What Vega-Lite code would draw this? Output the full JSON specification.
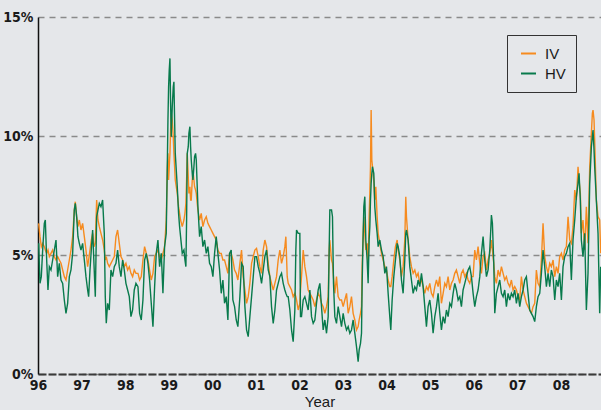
{
  "$schema": "https://vega.github.io/schema/vega-lite/v6.json",
  "width": 563,
  "height": 357,
  "autosize": {"type": "none"},
  "padding": {"left": 38, "top": 17, "right": 0, "bottom": 36},
  "background": "#e5e7ea",
  "config": {
    "view": {"stroke": null},
    "axis": {
      "labelFont": "Liberation Sans Narrow, DejaVu Sans Condensed, Arial Narrow, sans-serif",
      "labelFontWeight": "bold",
      "labelFontSize": 14,
      "labelColor": "#1a1a1a",
      "titleFont": "Liberation Sans, Arial, sans-serif",
      "titleFontWeight": "normal",
      "titleFontSize": 15,
      "titleColor": "#1a1a1a",
      "ticks": false,
      "labelFlush": false,
      "labelOverlap": false
    }
  },
  "data": {"values": [
    {"t":1996.015,"IV":6.33,"HV":5.49},{"t":1996.046,"IV":5.77,"HV":3.81},{"t":1996.076,"IV":5.35,"HV":4.09},{"t":1996.107,"IV":5.49,"HV":5.21},{"t":1996.145,"IV":5.35,"HV":6.33},{"t":1996.168,"IV":5.21,"HV":6.47},{"t":1996.199,"IV":5.07,"HV":4.79},{"t":1996.229,"IV":5.21,"HV":3.53},{"t":1996.26,"IV":4.93,"HV":4.51},{"t":1996.298,"IV":5.07,"HV":4.37},{"t":1996.336,"IV":5.21,"HV":4.79},{"t":1996.375,"IV":4.93,"HV":5.21},{"t":1996.413,"IV":4.79,"HV":5.63},{"t":1996.451,"IV":4.93,"HV":4.09},{"t":1996.489,"IV":4.79,"HV":4.65},{"t":1996.528,"IV":4.65,"HV":3.95},{"t":1996.566,"IV":4.37,"HV":3.81},{"t":1996.604,"IV":4.09,"HV":3.11},{"t":1996.642,"IV":3.95,"HV":2.55},{"t":1996.68,"IV":4.37,"HV":2.97},{"t":1996.719,"IV":4.79,"HV":4.09},{"t":1996.757,"IV":5.21,"HV":4.37},{"t":1996.795,"IV":5.77,"HV":5.07},{"t":1996.833,"IV":6.89,"HV":6.89},{"t":1996.856,"IV":7.24,"HV":7.17},{"t":1996.887,"IV":6.61,"HV":6.61},{"t":1996.917,"IV":6.19,"HV":5.77},{"t":1996.948,"IV":6.47,"HV":5.49},{"t":1996.986,"IV":6.05,"HV":5.21},
    {"t":1997.024,"IV":6.33,"HV":5.49},{"t":1997.063,"IV":5.77,"HV":4.79},{"t":1997.101,"IV":5.21,"HV":4.09},{"t":1997.139,"IV":4.51,"HV":3.53},{"t":1997.162,"IV":4.79,"HV":3.25},{"t":1997.193,"IV":5.21,"HV":4.37},{"t":1997.223,"IV":5.63,"HV":5.21},{"t":1997.254,"IV":5.91,"HV":6.05},{"t":1997.284,"IV":5.35,"HV":4.65},{"t":1997.315,"IV":5.49,"HV":3.25},{"t":1997.346,"IV":7.31,"HV":6.61},{"t":1997.376,"IV":6.47,"HV":6.89},{"t":1997.407,"IV":6.19,"HV":7.17},{"t":1997.445,"IV":5.91,"HV":7.03},{"t":1997.483,"IV":5.63,"HV":7.31},{"t":1997.521,"IV":5.21,"HV":5.91},{"t":1997.544,"IV":4.79,"HV":3.25},{"t":1997.567,"IV":4.93,"HV":2.13},{"t":1997.598,"IV":4.65,"HV":2.97},{"t":1997.636,"IV":4.51,"HV":2.69},{"t":1997.674,"IV":4.65,"HV":4.37},{"t":1997.713,"IV":4.79,"HV":4.09},{"t":1997.751,"IV":4.93,"HV":4.51},{"t":1997.789,"IV":5.77,"HV":4.65},{"t":1997.827,"IV":6.05,"HV":5.21},{"t":1997.865,"IV":5.49,"HV":4.51},{"t":1997.904,"IV":4.93,"HV":4.09},{"t":1997.942,"IV":4.79,"HV":4.79},{"t":1997.98,"IV":4.51,"HV":4.37},
    {"t":1998.018,"IV":4.65,"HV":3.81},{"t":1998.057,"IV":4.37,"HV":3.53},{"t":1998.095,"IV":4.51,"HV":3.25},{"t":1998.133,"IV":4.23,"HV":2.41},{"t":1998.171,"IV":4.09,"HV":2.69},{"t":1998.209,"IV":4.37,"HV":3.53},{"t":1998.248,"IV":4.23,"HV":3.81},{"t":1998.294,"IV":4.23,"HV":3.67},{"t":1998.332,"IV":3.95,"HV":2.55},{"t":1998.37,"IV":4.09,"HV":2.27},{"t":1998.408,"IV":4.79,"HV":3.11},{"t":1998.446,"IV":5.35,"HV":4.79},{"t":1998.485,"IV":5.07,"HV":5.07},{"t":1998.523,"IV":4.79,"HV":4.65},{"t":1998.561,"IV":4.37,"HV":3.95},{"t":1998.599,"IV":3.95,"HV":2.97},{"t":1998.638,"IV":4.23,"HV":1.99},{"t":1998.676,"IV":4.93,"HV":3.67},{"t":1998.714,"IV":5.07,"HV":5.07},{"t":1998.752,"IV":5.21,"HV":5.63},{"t":1998.791,"IV":4.93,"HV":4.51},{"t":1998.829,"IV":4.79,"HV":5.07},{"t":1998.867,"IV":5.07,"HV":3.39},{"t":1998.905,"IV":5.35,"HV":5.35},{"t":1998.943,"IV":6.47,"HV":5.91},{"t":1998.966,"IV":8.57,"HV":8.57},{"t":1998.982,"IV":9.27,"HV":10.67},{"t":1998.997,"IV":8.15,"HV":12.07},
    {"t":1999.012,"IV":8.71,"HV":12.77},{"t":1999.028,"IV":9.27,"HV":13.26},{"t":1999.043,"IV":10.25,"HV":11.37},{"t":1999.058,"IV":10.95,"HV":9.97},{"t":1999.081,"IV":10.67,"HV":11.23},{"t":1999.104,"IV":9.97,"HV":12.07},{"t":1999.119,"IV":9.27,"HV":12.28},{"t":1999.135,"IV":8.71,"HV":10.67},{"t":1999.15,"IV":8.15,"HV":9.27},{"t":1999.173,"IV":7.87,"HV":8.57},{"t":1999.196,"IV":7.59,"HV":7.87},{"t":1999.226,"IV":7.03,"HV":6.75},{"t":1999.249,"IV":6.75,"HV":6.19},{"t":1999.272,"IV":6.47,"HV":5.77},{"t":1999.31,"IV":6.19,"HV":5.07},{"t":1999.349,"IV":6.47,"HV":5.21},{"t":1999.372,"IV":6.75,"HV":4.79},{"t":1999.394,"IV":7.17,"HV":4.51},{"t":1999.41,"IV":8.15,"HV":6.47},{"t":1999.425,"IV":9.27,"HV":9.27},{"t":1999.448,"IV":8.29,"HV":9.55},{"t":1999.463,"IV":7.59,"HV":10.11},{"t":1999.486,"IV":7.87,"HV":10.39},{"t":1999.502,"IV":7.31,"HV":9.55},{"t":1999.517,"IV":7.31,"HV":8.99},{"t":1999.54,"IV":8.15,"HV":8.43},{"t":1999.555,"IV":8.57,"HV":8.15},{"t":1999.578,"IV":8.15,"HV":8.71},{"t":1999.593,"IV":7.87,"HV":9.13},{"t":1999.616,"IV":7.73,"HV":9.27},{"t":1999.632,"IV":7.59,"HV":8.99},{"t":1999.654,"IV":7.17,"HV":7.87},{"t":1999.67,"IV":6.89,"HV":7.03},{"t":1999.708,"IV":6.47,"HV":5.77},{"t":1999.746,"IV":6.75,"HV":6.19},{"t":1999.784,"IV":6.19,"HV":5.35},{"t":1999.823,"IV":6.47,"HV":5.63},{"t":1999.861,"IV":6.61,"HV":5.07},{"t":1999.899,"IV":6.33,"HV":5.35},{"t":1999.937,"IV":6.19,"HV":4.65},{"t":1999.976,"IV":6.05,"HV":4.51},
    {"t":2000.014,"IV":5.91,"HV":4.09},{"t":2000.052,"IV":5.77,"HV":5.07},{"t":2000.09,"IV":5.63,"HV":5.77},{"t":2000.128,"IV":5.21,"HV":5.07},{"t":2000.167,"IV":5.07,"HV":4.37},{"t":2000.205,"IV":5.07,"HV":3.39},{"t":2000.243,"IV":4.79,"HV":3.95},{"t":2000.281,"IV":4.79,"HV":2.97},{"t":2000.32,"IV":4.51,"HV":3.25},{"t":2000.358,"IV":4.23,"HV":2.27},{"t":2000.396,"IV":5.07,"HV":5.07},{"t":2000.434,"IV":5.07,"HV":5.21},{"t":2000.472,"IV":4.79,"HV":3.11},{"t":2000.511,"IV":4.37,"HV":2.83},{"t":2000.549,"IV":4.23,"HV":2.27},{"t":2000.587,"IV":3.95,"HV":1.99},{"t":2000.633,"IV":4.65,"HV":3.25},{"t":2000.671,"IV":5.21,"HV":4.65},{"t":2000.709,"IV":4.09,"HV":4.51},{"t":2000.748,"IV":3.53,"HV":2.83},{"t":2000.786,"IV":2.97,"HV":1.85},{"t":2000.824,"IV":3.25,"HV":1.57},{"t":2000.862,"IV":3.81,"HV":2.41},{"t":2000.901,"IV":4.65,"HV":3.25},{"t":2000.939,"IV":4.93,"HV":4.09},{"t":2000.977,"IV":5.21,"HV":4.93},
    {"t":2001.015,"IV":5.28,"HV":4.93},{"t":2001.054,"IV":4.93,"HV":4.51},{"t":2001.092,"IV":4.51,"HV":4.23},{"t":2001.13,"IV":4.23,"HV":3.81},{"t":2001.168,"IV":5.21,"HV":4.37},{"t":2001.206,"IV":5.63,"HV":4.93},{"t":2001.245,"IV":5.35,"HV":5.21},{"t":2001.283,"IV":4.65,"HV":4.37},{"t":2001.321,"IV":4.09,"HV":4.09},{"t":2001.359,"IV":3.81,"HV":2.83},{"t":2001.398,"IV":3.53,"HV":2.13},{"t":2001.436,"IV":3.81,"HV":2.69},{"t":2001.474,"IV":4.09,"HV":3.53},{"t":2001.512,"IV":4.79,"HV":3.81},{"t":2001.55,"IV":5.21,"HV":4.09},{"t":2001.589,"IV":4.65,"HV":4.23},{"t":2001.627,"IV":4.93,"HV":3.81},{"t":2001.665,"IV":5.35,"HV":3.53},{"t":2001.688,"IV":5.77,"HV":3.39},{"t":2001.719,"IV":4.09,"HV":3.25},{"t":2001.742,"IV":3.81,"HV":3.25},{"t":2001.78,"IV":3.67,"HV":2.69},{"t":2001.818,"IV":3.53,"HV":1.85},{"t":2001.856,"IV":3.25,"HV":1.36},{"t":2001.894,"IV":3.39,"HV":2.69},{"t":2001.917,"IV":3.25,"HV":5.21},{"t":2001.933,"IV":3.11,"HV":6.05},{"t":2001.971,"IV":2.69,"HV":5.91},
    {"t":2002.009,"IV":2.97,"HV":5.91},{"t":2002.024,"IV":3.53,"HV":2.41},{"t":2002.047,"IV":4.09,"HV":2.41},{"t":2002.086,"IV":5.21,"HV":3.11},{"t":2002.124,"IV":4.51,"HV":3.25},{"t":2002.162,"IV":4.09,"HV":2.97},{"t":2002.2,"IV":3.53,"HV":2.69},{"t":2002.239,"IV":3.39,"HV":3.53},{"t":2002.277,"IV":3.25,"HV":2.41},{"t":2002.315,"IV":3.11,"HV":2.13},{"t":2002.353,"IV":2.83,"HV":2.27},{"t":2002.391,"IV":3.11,"HV":2.97},{"t":2002.43,"IV":3.39,"HV":3.53},{"t":2002.468,"IV":3.25,"HV":3.81},{"t":2002.506,"IV":2.97,"HV":2.83},{"t":2002.544,"IV":2.83,"HV":1.85},{"t":2002.583,"IV":2.55,"HV":2.27},{"t":2002.621,"IV":2.83,"HV":1.71},{"t":2002.659,"IV":3.25,"HV":2.41},{"t":2002.682,"IV":5.21,"HV":5.21},{"t":2002.697,"IV":5.63,"HV":6.89},{"t":2002.736,"IV":4.79,"HV":6.89},{"t":2002.758,"IV":4.65,"HV":6.61},{"t":2002.781,"IV":4.09,"HV":3.81},{"t":2002.812,"IV":3.39,"HV":2.41},{"t":2002.85,"IV":4.09,"HV":2.13},{"t":2002.888,"IV":3.25,"HV":2.83},{"t":2002.927,"IV":3.11,"HV":2.41},{"t":2002.965,"IV":3.11,"HV":1.99},
    {"t":2003.003,"IV":2.83,"HV":2.55},{"t":2003.041,"IV":3.11,"HV":2.13},{"t":2003.08,"IV":3.39,"HV":1.85},{"t":2003.118,"IV":2.55,"HV":1.99},{"t":2003.156,"IV":2.83,"HV":1.71},{"t":2003.194,"IV":3.25,"HV":1.85},{"t":2003.232,"IV":2.55,"HV":2.27},{"t":2003.271,"IV":2.27,"HV":1.71},{"t":2003.309,"IV":1.85,"HV":1.15},{"t":2003.347,"IV":1.99,"HV":0.52},{"t":2003.37,"IV":2.27,"HV":1.01},{"t":2003.401,"IV":2.55,"HV":1.29},{"t":2003.424,"IV":2.83,"HV":1.71},{"t":2003.439,"IV":4.51,"HV":3.81},{"t":2003.454,"IV":5.49,"HV":5.21},{"t":2003.477,"IV":6.61,"HV":7.03},{"t":2003.5,"IV":5.91,"HV":7.45},{"t":2003.523,"IV":5.21,"HV":5.63},{"t":2003.553,"IV":5.49,"HV":4.79},{"t":2003.576,"IV":4.51,"HV":3.81},{"t":2003.599,"IV":6.61,"HV":5.63},{"t":2003.615,"IV":7.59,"HV":6.19},{"t":2003.63,"IV":8.71,"HV":7.31},{"t":2003.645,"IV":11.09,"HV":8.01},{"t":2003.661,"IV":8.99,"HV":8.43},{"t":2003.676,"IV":8.71,"HV":8.71},{"t":2003.691,"IV":8.43,"HV":8.57},{"t":2003.706,"IV":8.15,"HV":8.43},{"t":2003.729,"IV":7.31,"HV":7.03},{"t":2003.752,"IV":7.87,"HV":6.47},{"t":2003.783,"IV":6.61,"HV":5.91},{"t":2003.806,"IV":5.91,"HV":5.35},{"t":2003.844,"IV":5.49,"HV":5.63},{"t":2003.882,"IV":5.07,"HV":5.21},{"t":2003.921,"IV":4.79,"HV":4.93},{"t":2003.959,"IV":4.51,"HV":4.23},{"t":2003.997,"IV":4.37,"HV":4.51},
    {"t":2004.035,"IV":3.95,"HV":3.39},{"t":2004.073,"IV":3.67,"HV":2.41},{"t":2004.096,"IV":3.67,"HV":1.85},{"t":2004.127,"IV":4.09,"HV":3.11},{"t":2004.165,"IV":4.79,"HV":4.09},{"t":2004.203,"IV":5.35,"HV":4.79},{"t":2004.242,"IV":5.63,"HV":5.49},{"t":2004.265,"IV":5.21,"HV":5.35},{"t":2004.303,"IV":4.79,"HV":4.93},{"t":2004.341,"IV":4.09,"HV":3.95},{"t":2004.379,"IV":4.51,"HV":3.39},{"t":2004.417,"IV":5.63,"HV":4.79},{"t":2004.44,"IV":7.45,"HV":5.91},{"t":2004.456,"IV":6.61,"HV":6.05},{"t":2004.494,"IV":5.63,"HV":5.63},{"t":2004.532,"IV":4.93,"HV":4.51},{"t":2004.57,"IV":4.51,"HV":3.95},{"t":2004.609,"IV":4.23,"HV":3.39},{"t":2004.647,"IV":4.37,"HV":3.67},{"t":2004.685,"IV":4.09,"HV":3.53},{"t":2004.723,"IV":4.23,"HV":3.95},{"t":2004.761,"IV":3.81,"HV":3.67},{"t":2004.8,"IV":3.95,"HV":4.23},{"t":2004.838,"IV":3.67,"HV":3.67},{"t":2004.876,"IV":3.39,"HV":2.83},{"t":2004.914,"IV":3.67,"HV":1.99},{"t":2004.952,"IV":3.53,"HV":2.83},{"t":2004.991,"IV":3.81,"HV":3.11},
    {"t":2005.029,"IV":3.39,"HV":2.55},{"t":2005.067,"IV":3.25,"HV":1.71},{"t":2005.106,"IV":3.67,"HV":2.41},{"t":2005.144,"IV":3.95,"HV":2.83},{"t":2005.182,"IV":3.67,"HV":3.39},{"t":2005.22,"IV":4.09,"HV":2.55},{"t":2005.258,"IV":2.97,"HV":1.85},{"t":2005.297,"IV":3.39,"HV":2.41},{"t":2005.335,"IV":3.81,"HV":2.13},{"t":2005.373,"IV":3.67,"HV":2.69},{"t":2005.411,"IV":4.09,"HV":2.41},{"t":2005.45,"IV":3.53,"HV":2.97},{"t":2005.488,"IV":3.81,"HV":2.83},{"t":2005.526,"IV":3.95,"HV":3.39},{"t":2005.564,"IV":4.23,"HV":3.81},{"t":2005.602,"IV":4.37,"HV":3.53},{"t":2005.641,"IV":4.09,"HV":3.11},{"t":2005.679,"IV":3.81,"HV":3.25},{"t":2005.717,"IV":4.23,"HV":2.83},{"t":2005.755,"IV":4.37,"HV":3.53},{"t":2005.794,"IV":4.09,"HV":3.81},{"t":2005.832,"IV":4.23,"HV":4.09},{"t":2005.87,"IV":3.95,"HV":4.37},{"t":2005.908,"IV":3.81,"HV":4.51},{"t":2005.947,"IV":4.09,"HV":4.09},{"t":2005.985,"IV":4.09,"HV":3.39},
    {"t":2006.023,"IV":5.21,"HV":2.83},{"t":2006.061,"IV":4.79,"HV":3.25},{"t":2006.099,"IV":5.35,"HV":3.53},{"t":2006.138,"IV":4.65,"HV":4.09},{"t":2006.176,"IV":4.23,"HV":5.07},{"t":2006.214,"IV":4.93,"HV":5.77},{"t":2006.252,"IV":5.07,"HV":4.79},{"t":2006.291,"IV":4.37,"HV":4.09},{"t":2006.329,"IV":4.79,"HV":4.37},{"t":2006.367,"IV":5.07,"HV":5.21},{"t":2006.39,"IV":5.35,"HV":6.05},{"t":2006.405,"IV":5.63,"HV":6.68},{"t":2006.428,"IV":5.21,"HV":6.33},{"t":2006.459,"IV":4.65,"HV":4.65},{"t":2006.482,"IV":4.09,"HV":2.55},{"t":2006.52,"IV":3.81,"HV":3.39},{"t":2006.558,"IV":4.37,"HV":3.67},{"t":2006.596,"IV":4.09,"HV":3.95},{"t":2006.635,"IV":4.51,"HV":3.39},{"t":2006.673,"IV":4.23,"HV":3.25},{"t":2006.711,"IV":3.95,"HV":3.53},{"t":2006.749,"IV":4.09,"HV":2.83},{"t":2006.787,"IV":3.81,"HV":3.39},{"t":2006.826,"IV":3.67,"HV":3.11},{"t":2006.864,"IV":3.95,"HV":3.39},{"t":2006.902,"IV":3.53,"HV":3.25},{"t":2006.94,"IV":3.67,"HV":3.53},{"t":2006.979,"IV":3.53,"HV":2.97},
    {"t":2007.017,"IV":3.25,"HV":3.39},{"t":2007.055,"IV":3.11,"HV":2.83},{"t":2007.093,"IV":4.09,"HV":3.25},{"t":2007.131,"IV":3.53,"HV":3.53},{"t":2007.17,"IV":3.25,"HV":3.95},{"t":2007.208,"IV":2.97,"HV":4.09},{"t":2007.246,"IV":2.83,"HV":3.39},{"t":2007.284,"IV":2.69,"HV":2.69},{"t":2007.323,"IV":2.55,"HV":2.55},{"t":2007.361,"IV":2.83,"HV":2.41},{"t":2007.399,"IV":2.97,"HV":2.2},{"t":2007.437,"IV":4.37,"HV":2.83},{"t":2007.475,"IV":3.81,"HV":3.25},{"t":2007.514,"IV":3.67,"HV":3.39},{"t":2007.552,"IV":4.79,"HV":4.23},{"t":2007.59,"IV":6.33,"HV":5.21},{"t":2007.628,"IV":4.93,"HV":4.51},{"t":2007.667,"IV":4.51,"HV":3.67},{"t":2007.705,"IV":4.23,"HV":4.23},{"t":2007.743,"IV":4.65,"HV":3.67},{"t":2007.781,"IV":4.51,"HV":4.37},{"t":2007.82,"IV":4.79,"HV":4.09},{"t":2007.858,"IV":4.09,"HV":3.11},{"t":2007.896,"IV":4.51,"HV":3.95},{"t":2007.934,"IV":4.23,"HV":3.67},{"t":2007.972,"IV":4.93,"HV":4.23},
    {"t":2008.011,"IV":5.07,"HV":3.11},{"t":2008.049,"IV":4.79,"HV":4.51},{"t":2008.087,"IV":5.21,"HV":4.93},{"t":2008.125,"IV":5.35,"HV":5.07},{"t":2008.164,"IV":6.61,"HV":5.35},{"t":2008.202,"IV":5.63,"HV":5.49},{"t":2008.24,"IV":5.49,"HV":3.95},{"t":2008.278,"IV":6.19,"HV":5.63},{"t":2008.317,"IV":7.73,"HV":6.47},{"t":2008.355,"IV":7.31,"HV":7.45},{"t":2008.393,"IV":8.71,"HV":8.01},{"t":2008.416,"IV":8.15,"HV":8.43},{"t":2008.446,"IV":7.59,"HV":7.31},{"t":2008.469,"IV":5.91,"HV":5.63},{"t":2008.507,"IV":6.47,"HV":4.93},{"t":2008.546,"IV":5.21,"HV":5.91},{"t":2008.584,"IV":7.03,"HV":2.69},{"t":2008.622,"IV":5.49,"HV":4.23},{"t":2008.661,"IV":8.71,"HV":8.01},{"t":2008.699,"IV":10.11,"HV":9.55},{"t":2008.722,"IV":10.95,"HV":9.97},{"t":2008.737,"IV":11.09,"HV":10.25},{"t":2008.76,"IV":10.67,"HV":9.41},{"t":2008.775,"IV":9.83,"HV":8.71},{"t":2008.813,"IV":7.31,"HV":7.31},{"t":2008.852,"IV":6.61,"HV":5.91},{"t":2008.89,"IV":6.47,"HV":2.55},{"t":2008.913,"IV":5.07,"HV":4.51}
  ]},
  "transform": [{"fold": ["IV", "HV"], "as": ["series", "vol"]}],
  "mark": {"type": "line", "strokeWidth": 1.4, "clip": true},
  "encoding": {
    "x": {
      "field": "t", "type": "quantitative",
      "scale": {"domain": [1996, 2008.92], "nice": false, "zero": false},
      "axis": {
        "values": [1996, 1997, 1998, 1999, 2000, 2001, 2002, 2003, 2004, 2005, 2006, 2007, 2008],
        "labelExpr": "substring(toString(datum.value), 2, 4)",
        "title": "Year",
        "titlePadding": 2,
        "labelPadding": 4,
        "grid": false,
        "domainColor": "#3a3a3a",
        "domainWidth": 2,
        "domainDash": [8, 2]
      }
    },
    "y": {
      "field": "vol", "type": "quantitative",
      "scale": {"domain": [0, 15], "nice": false},
      "axis": {
        "values": [0, 5, 10, 15],
        "labelExpr": "datum.value + '%'",
        "title": null,
        "labelPadding": 5,
        "grid": true,
        "gridColor": "#8a8a8a",
        "gridWidth": 1.3,
        "gridDash": [6, 5],
        "domainColor": "#111111",
        "domainWidth": 1.5
      }
    },
    "color": {
      "field": "series", "type": "nominal",
      "scale": {"domain": ["IV", "HV"], "range": ["#f68b1f", "#087a4c"]},
      "legend": {
        "orient": "none",
        "legendX": 469,
        "legendY": 18,
        "title": null,
        "symbolType": "stroke",
        "symbolSize": 225,
        "symbolStrokeWidth": 2,
        "symbolOffset": 3,
        "strokeColor": "#333333",
        "fillColor": "#e5e7ea",
        "padding": 10,
        "rowPadding": 3,
        "labelOffset": 8,
        "labelFont": "Liberation Sans, Arial, sans-serif",
        "labelFontSize": 15,
        "labelColor": "#1a1a1a"
      }
    }
  }
}
